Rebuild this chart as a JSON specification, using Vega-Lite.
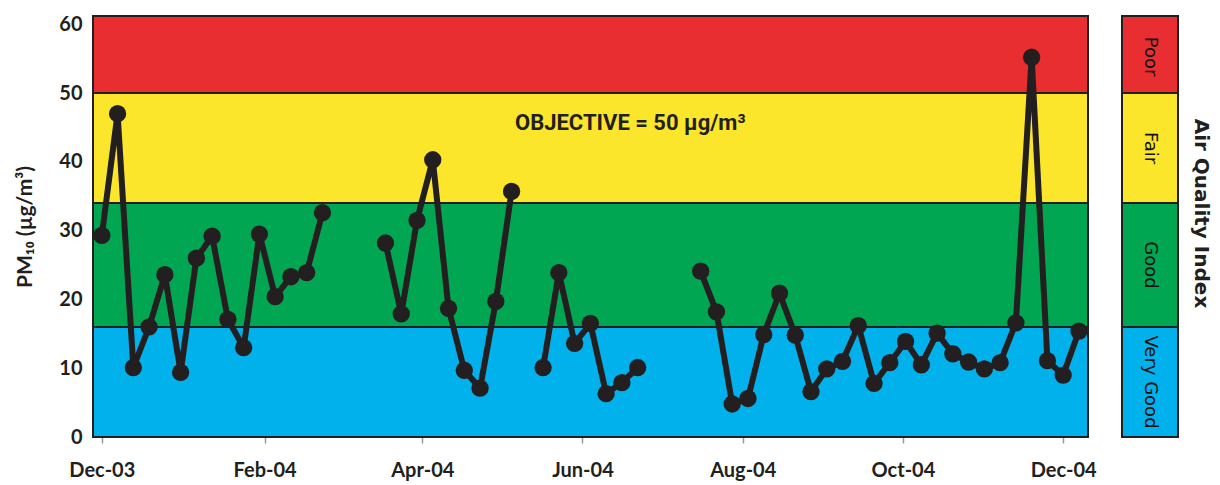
{
  "$schema": "https://vega.github.io/schema/vega-lite/v6.json",
  "padding": {"left": 14, "top": 14, "right": 5, "bottom": 5},
  "background": "white",
  "config": {"view": {"stroke": null}, "font": "Lato"},
  "datasets": {
    "pm": [
      {"date": "2003-12-01T00:00:00", "value": 29.3, "seg": 1},
      {"date": "2003-12-07T00:00:00", "value": 47.0, "seg": 1},
      {"date": "2003-12-13T00:00:00", "value": 10.1, "seg": 1},
      {"date": "2003-12-19T00:00:00", "value": 16.0, "seg": 1},
      {"date": "2003-12-25T00:00:00", "value": 23.6, "seg": 1},
      {"date": "2003-12-31T00:00:00", "value": 9.4, "seg": 1},
      {"date": "2004-01-06T00:00:00", "value": 26.0, "seg": 1},
      {"date": "2004-01-12T00:00:00", "value": 29.2, "seg": 1},
      {"date": "2004-01-18T00:00:00", "value": 17.1, "seg": 1},
      {"date": "2004-01-24T00:00:00", "value": 13.0, "seg": 1},
      {"date": "2004-01-30T00:00:00", "value": 29.5, "seg": 1},
      {"date": "2004-02-05T00:00:00", "value": 20.4, "seg": 1},
      {"date": "2004-02-11T00:00:00", "value": 23.3, "seg": 1},
      {"date": "2004-02-17T00:00:00", "value": 23.9, "seg": 1},
      {"date": "2004-02-23T00:00:00", "value": 32.6, "seg": 1},
      {"date": "2004-03-18T00:00:00", "value": 28.2, "seg": 2},
      {"date": "2004-03-24T00:00:00", "value": 17.9, "seg": 2},
      {"date": "2004-03-30T00:00:00", "value": 31.5, "seg": 2},
      {"date": "2004-04-05T00:00:00", "value": 40.3, "seg": 2},
      {"date": "2004-04-11T00:00:00", "value": 18.7, "seg": 2},
      {"date": "2004-04-17T00:00:00", "value": 9.7, "seg": 2},
      {"date": "2004-04-23T00:00:00", "value": 7.1, "seg": 2},
      {"date": "2004-04-29T00:00:00", "value": 19.7, "seg": 2},
      {"date": "2004-05-05T00:00:00", "value": 35.7, "seg": 2},
      {"date": "2004-05-17T00:00:00", "value": 10.1, "seg": 3},
      {"date": "2004-05-23T00:00:00", "value": 23.9, "seg": 3},
      {"date": "2004-05-29T00:00:00", "value": 13.6, "seg": 3},
      {"date": "2004-06-04T00:00:00", "value": 16.5, "seg": 3},
      {"date": "2004-06-10T00:00:00", "value": 6.3, "seg": 3},
      {"date": "2004-06-16T00:00:00", "value": 7.9, "seg": 3},
      {"date": "2004-06-22T00:00:00", "value": 10.1, "seg": 3},
      {"date": "2004-07-16T00:00:00", "value": 24.1, "seg": 4},
      {"date": "2004-07-22T00:00:00", "value": 18.2, "seg": 4},
      {"date": "2004-07-28T00:00:00", "value": 4.8, "seg": 4},
      {"date": "2004-08-03T00:00:00", "value": 5.6, "seg": 4},
      {"date": "2004-08-09T00:00:00", "value": 14.9, "seg": 4},
      {"date": "2004-08-15T00:00:00", "value": 20.9, "seg": 4},
      {"date": "2004-08-21T00:00:00", "value": 14.8, "seg": 4},
      {"date": "2004-08-27T00:00:00", "value": 6.6, "seg": 4},
      {"date": "2004-09-02T00:00:00", "value": 9.9, "seg": 4},
      {"date": "2004-09-08T00:00:00", "value": 11.0, "seg": 4},
      {"date": "2004-09-14T00:00:00", "value": 16.2, "seg": 4},
      {"date": "2004-09-20T00:00:00", "value": 7.8, "seg": 4},
      {"date": "2004-09-26T00:00:00", "value": 10.8, "seg": 4},
      {"date": "2004-10-02T00:00:00", "value": 13.9, "seg": 4},
      {"date": "2004-10-08T00:00:00", "value": 10.5, "seg": 4},
      {"date": "2004-10-14T00:00:00", "value": 15.1, "seg": 4},
      {"date": "2004-10-20T00:00:00", "value": 12.1, "seg": 4},
      {"date": "2004-10-26T00:00:00", "value": 10.9, "seg": 4},
      {"date": "2004-11-01T00:00:00", "value": 9.9, "seg": 4},
      {"date": "2004-11-07T00:00:00", "value": 10.8, "seg": 4},
      {"date": "2004-11-13T00:00:00", "value": 16.6, "seg": 4},
      {"date": "2004-11-19T00:00:00", "value": 55.2, "seg": 4},
      {"date": "2004-11-25T00:00:00", "value": 11.1, "seg": 4},
      {"date": "2004-12-01T00:00:00", "value": 9.0, "seg": 4},
      {"date": "2004-12-07T00:00:00", "value": 15.4, "seg": 4}
    ],
    "bands": [
      {"cat": "Very Good", "lo": 0, "hi": 16, "mid": 8},
      {"cat": "Good", "lo": 16, "hi": 34, "mid": 25},
      {"cat": "Fair", "lo": 34, "hi": 50, "mid": 42},
      {"cat": "Poor", "lo": 50, "hi": 61.2, "mid": 55.3}
    ],
    "note": [
      {"date": "2004-06-19T05:00:00", "value": 45.7, "label": "OBJECTIVE = 50 µg/m³"}
    ]
  },
  "spacing": 34,
  "bounds": "flush",
  "hconcat": [
    {
      "width": 995,
      "height": 421,
      "layer": [
        {
          "data": {"name": "bands"},
          "mark": {"type": "rect", "stroke": "#231f20", "strokeWidth": 2},
          "encoding": {
            "y": {
              "field": "lo", "type": "quantitative",
              "scale": {"domain": [0, 61.2], "nice": false, "zero": true},
              "title": "PM₁₀ (µg/m³)",
              "axis": {
                "values": [0, 10, 20, 30, 40, 50, 60],
                "grid": false, "ticks": false, "domain": false,
                "labelFontWeight": "bold", "labelFontSize": 20, "labelColor": "#231f20", "labelPadding": 11,
                "titleFontWeight": "bold", "titleFontSize": 21, "titleColor": "#231f20", "titlePadding": 23
              }
            },
            "y2": {"field": "hi"},
            "color": {
              "field": "cat", "type": "nominal",
              "scale": {"domain": ["Very Good", "Good", "Fair", "Poor"], "range": ["#00b1eb", "#00a651", "#fce62c", "#e82e30"]},
              "legend": null
            }
          }
        },
        {
          "data": {"name": "pm"},
          "mark": {"type": "line", "color": "#231f20", "strokeWidth": 6, "strokeJoin": "round"},
          "encoding": {
            "x": {
              "field": "date", "type": "temporal", "title": null,
              "scale": {"domain": [{"year": 2003, "month": 11, "date": 27, "hours": 15, "minutes": 30}, {"year": 2004, "month": 12, "date": 10, "hours": 11}]},
              "axis": {
                "values": [
                  {"year": 2003, "month": 12, "date": 1},
                  {"year": 2004, "month": 2, "date": 1},
                  {"year": 2004, "month": 4, "date": 1},
                  {"year": 2004, "month": 6, "date": 1},
                  {"year": 2004, "month": 8, "date": 1},
                  {"year": 2004, "month": 10, "date": 1},
                  {"year": 2004, "month": 12, "date": 1}
                ],
                "format": "%b-%y",
                "grid": false, "domain": false,
                "tickSize": 6, "tickColor": "#999999", "tickWidth": 1.5,
                "labelFontWeight": "bold", "labelFontSize": 20, "labelColor": "#231f20",
                "labelPadding": 17, "labelFlush": false, "labelOverlap": false
              }
            },
            "y": {"field": "value", "type": "quantitative", "title": "PM₁₀ (µg/m³)"},
            "detail": {"field": "seg"}
          }
        },
        {
          "data": {"name": "pm"},
          "mark": {"type": "circle", "color": "#231f20", "size": 300, "opacity": 1},
          "encoding": {
            "x": {"field": "date", "type": "temporal", "title": null},
            "y": {"field": "value", "type": "quantitative", "title": "PM₁₀ (µg/m³)"}
          }
        },
        {
          "data": {"name": "note"},
          "mark": {"type": "text", "font": "Roboto", "fontWeight": "bold", "fontSize": 22, "color": "#231f20", "align": "center", "baseline": "middle"},
          "encoding": {
            "x": {"field": "date", "type": "temporal", "title": null},
            "y": {"field": "value", "type": "quantitative", "title": "PM₁₀ (µg/m³)"},
            "text": {"field": "label"}
          }
        }
      ]
    },
    {
      "width": 56,
      "height": 421,
      "layer": [
        {
          "data": {"name": "bands"},
          "mark": {"type": "rect", "stroke": "#231f20", "strokeWidth": 2},
          "encoding": {
            "y": {
              "field": "lo", "type": "quantitative",
              "scale": {"domain": [0, 61.2], "nice": false, "zero": true},
              "title": "Air Quality Index",
              "axis": {
                "orient": "right", "labels": false, "ticks": false, "domain": false, "grid": false,
                "titleAngle": 90, "titleFont": "DejaVu Sans", "titleFontWeight": "bold", "titleFontSize": 20,
                "titleColor": "#231f20", "titlePadding": 12, "titleY": 197
              }
            },
            "y2": {"field": "hi"},
            "color": {
              "field": "cat", "type": "nominal",
              "scale": {"domain": ["Very Good", "Good", "Fair", "Poor"], "range": ["#00b1eb", "#00a651", "#fce62c", "#e82e30"]},
              "legend": null
            }
          }
        },
        {
          "data": {"name": "bands"},
          "mark": {"type": "text", "angle": 90, "font": "DejaVu Sans", "fontSize": 18, "color": "#111111", "align": "center", "baseline": "middle"},
          "encoding": {
            "y": {"field": "mid", "type": "quantitative", "title": "Air Quality Index"},
            "text": {"field": "cat"}
          }
        }
      ]
    }
  ]
}
